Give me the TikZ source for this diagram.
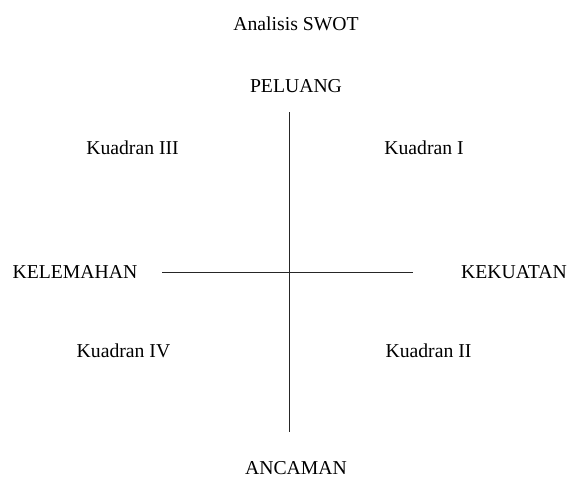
\documentclass[tikz,border=0pt]{standalone}
\usepackage{fontspec}
\setmainfont{Liberation Serif}
\usepackage{tikz}
\usetikzlibrary{positioning}

\begin{document}
\begin{tikzpicture}[
    x=1pt, y=-1pt,
    lbl/.style={inner sep=0pt, font=\fontsize{19.7}{24}\selectfont},
    axis/.style={line width=0.9pt, black!85},
]
\useasboundingbox (0,0) rectangle (572,480);

% Title and axis labels
\node[lbl] (title) at (296,24) {Analisis SWOT};
\node[lbl] (peluang) at (296,86) {PELUANG};
\node[lbl] (ancaman) at (296,468) {ANCAMAN};
\node[lbl] (kelemahan) at (75,272) {KELEMAHAN};
\node[lbl] (kekuatan) at (514,272) {KEKUATAN};

% Quadrants
\node[lbl] (q3) at (132.5,148) {Kuadran III};
\node[lbl] (q1) at (424,148) {Kuadran I};
\node[lbl] (q4) at (123.5,351) {Kuadran IV};
\node[lbl] (q2) at (428.5,351) {Kuadran II};

% Axes
\coordinate (top) at (289,112);
\coordinate (bottom) at (289,432);
\coordinate (left) at (162,272);
\coordinate (right) at (413,272);
\draw[axis] (top) -- (bottom);
\draw[axis] (left) -- (right);

\end{tikzpicture}
\end{document}
